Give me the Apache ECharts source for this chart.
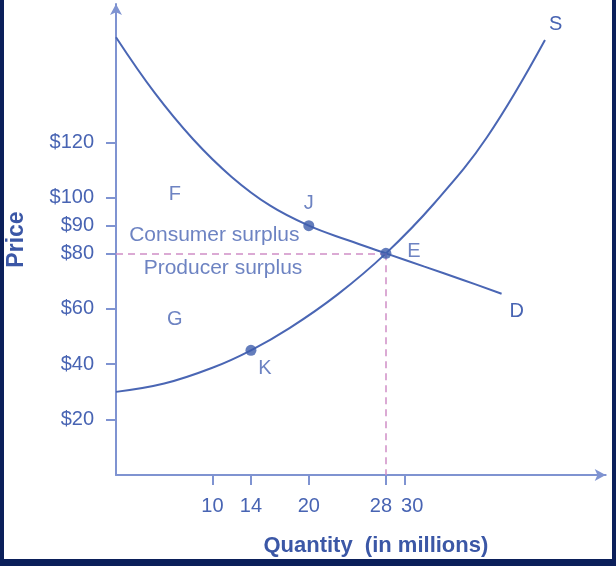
<!DOCTYPE html>
<html>
<head>
<meta charset="utf-8">
<script src="https://cdn.jsdelivr.net/npm/echarts@6/dist/echarts.min.js"></script>
<style>
html,body{margin:0;padding:0;background:#fff;}
#chart{width:616px;height:566px;}
</style>
</head>
<body>
<div id="chart"></div>
<script>
// tick labels
var quantityTicks = [10, 14, 20, 28, 30];
var priceTicks = [20, 40, 60, 80, 90, 100, 120];

// demand curve D
var demandQty = [0, 4, 8, 12, 16, 20, 24, 28, 32, 36, 40];
var demandPrice = [158, 138, 121.2, 107.6, 97.2, 90, 84.8, 80, 75.2, 70.4, 65.4];

// supply curve S
var supplyQty = [0, 5, 10, 14, 18, 23, 28, 33, 38.5, 44.5];
var supplyPrice = [30, 33, 38.7, 45, 53, 65.2, 80, 98, 122, 157];

// marked points
var pointNames = ['J', 'K', 'E'];
var pointQty = [20, 14, 28];
var pointPrice = [90, 45, 80];

// area notes
var noteNames = ['F', 'G', 'Consumer surplus', 'Producer surplus'];
var noteQty = [6.1, 6.1, 10.2, 11.1];
var notePrice = [101.4, 56, 86.6, 74.7];

var eqQty = 28, eqPrice = 80;

var blue = '#4a66b4';
var textBlue = '#4864b3';
var font = 'Liberation Sans, Arial, sans-serif';

function pairs(xs, ys) {
	var out = [];
	for (var i = 0; i < xs.length; i++) out.push([xs[i], ys[i]]);
	return out;
}

var labelOffsets = { J: [0, -22], K: [14, 18], E: [28, -2] };

var chart = echarts.init(document.getElementById('chart'));

var tickText = { color: textBlue, fontSize: 20, fontFamily: font };

var option = {
	animation: false,
	backgroundColor: '#fff',
	grid: { left: 116, top: 4, bottom: 91, width: 489.7, containLabel: false, outerBoundsMode: 'none' },
	xAxis: {
		type: 'value', min: 0, max: 50.8,
		name: 'Quantity  (in millions)',
		nameLocation: 'middle', nameGap: 60,
		nameTextStyle: { color: '#3b57a6', fontSize: 22, fontWeight: 'bold', fontFamily: font, padding: [0, 0, 0, 30] },
		axisLine: { lineStyle: { color: '#7f93d1', width: 2 }, symbol: ['none', 'arrow'], symbolSize: [9, 11] },
		axisTick: { show: true, length: 10, inside: false, customValues: quantityTicks, lineStyle: { color: '#7f93d1', width: 2 } },
		axisLabel: {
			customValues: quantityTicks, color: textBlue, fontSize: 20, fontFamily: font, margin: 21, hideOverlap: false,
			formatter: function (v) {
				if (v === 28) return '{l|28}';
				if (v === 30) return '{r|30}';
				return String(v);
			},
			rich: {
				l: Object.assign({ padding: [0, 10, 0, 0] }, tickText),
				r: Object.assign({ padding: [0, 0, 0, 14] }, tickText)
			}
		},
		splitLine: { show: false }
	},
	yAxis: {
		type: 'value', min: 0, max: 170,
		name: 'Price',
		nameLocation: 'middle', nameGap: 88, nameRotate: 90,
		nameTextStyle: { color: '#3b57a6', fontSize: 23, fontWeight: 'bold', fontFamily: font },
		axisLine: { show: true, lineStyle: { color: '#7f93d1', width: 2 }, symbol: ['none', 'arrow'], symbolSize: [9, 11] },
		axisTick: { show: true, length: 10, customValues: priceTicks, lineStyle: { color: '#7f93d1', width: 2 } },
		axisLabel: {
			customValues: priceTicks, color: textBlue, fontSize: 20, fontFamily: font, margin: 22,
			formatter: function (v) { return '$' + v; }
		},
		splitLine: { show: false }
	},
	graphic: [
		{ type: 'rect', shape: { x: 0, y: 0, width: 4, height: 566 }, style: { fill: '#0b1f5a' }, z: 100 },
		{ type: 'rect', shape: { x: 612, y: 0, width: 4, height: 566 }, style: { fill: '#0b1f5a' }, z: 100 },
		{ type: 'rect', shape: { x: 0, y: 559, width: 616, height: 7 }, style: { fill: '#0b1f5a' }, z: 100 }
	],
	series: [
		{
			name: 'D', type: 'line', smooth: 0.4, symbol: 'none',
			data: pairs(demandQty, demandPrice),
			lineStyle: { color: blue, width: 2 },
			endLabel: { show: true, formatter: 'D', color: textBlue, fontSize: 20, fontFamily: font, offset: [0, 18] },
			markLine: {
				silent: true, symbol: 'none', label: { show: false },
				lineStyle: { color: '#cf8fc6', width: 1.5, type: [7, 5] },
				data: [
					[{ coord: [0, eqPrice] }, { coord: [eqQty, eqPrice] }],
					[{ coord: [eqQty, eqPrice] }, { coord: [eqQty, 0] }]
				]
			}
		},
		{
			name: 'S', type: 'line', smooth: 0.4, symbol: 'none',
			data: pairs(supplyQty, supplyPrice),
			lineStyle: { color: blue, width: 2 },
			endLabel: { show: true, formatter: 'S', color: textBlue, fontSize: 20, fontFamily: font, offset: [-4, -16] }
		},
		{
			name: 'points', type: 'scatter', symbolSize: 11, z: 5,
			itemStyle: { color: '#3d5cab' },
			data: pointNames.map(function (n, i) {
				return {
					name: n, value: [pointQty[i], pointPrice[i]],
					label: { show: true, position: 'inside', offset: labelOffsets[n], formatter: n, color: textBlue, fontSize: 20, fontFamily: font }
				};
			})
		},
		{
			name: 'notes', type: 'scatter', symbolSize: 1, silent: true,
			itemStyle: { color: 'rgba(0,0,0,0)' },
			label: { show: true, position: 'inside', formatter: '{b}', color: textBlue, fontFamily: font },
			data: noteNames.map(function (n, i) {
				return { name: n, value: [noteQty[i], notePrice[i]], label: { fontSize: n.length > 1 ? 21 : 20 } };
			})
		}
	]
};

chart.setOption(option);
</script>
</body>
</html>
